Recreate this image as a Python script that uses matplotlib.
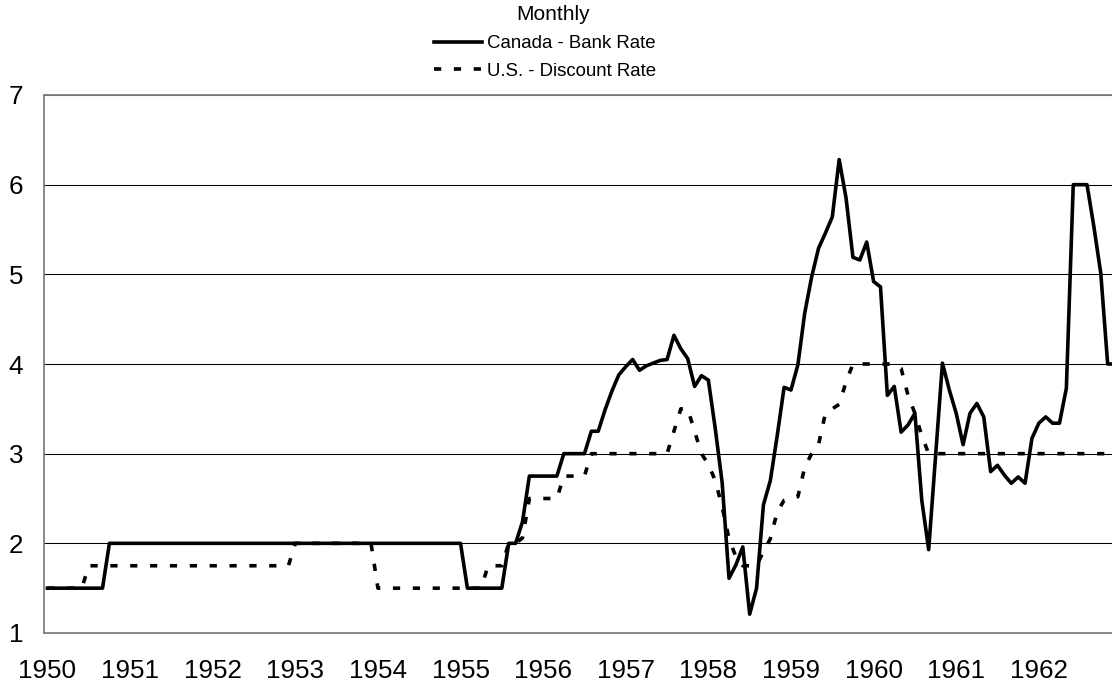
import numpy as np
import matplotlib
matplotlib.use("Agg")
import matplotlib.pyplot as plt

plt.rcParams['font.family'] = ['Liberation Sans', 'DejaVu Sans']

years = [1950, 1951, 1952, 1953, 1954, 1955, 1956, 1957, 1958, 1959, 1960, 1961, 1962]

# Canada - Bank Rate, monthly
canada = [
    1.5, 1.5, 1.5, 1.5, 1.5, 1.5, 1.5, 1.5, 1.5, 2.0, 2.0, 2.0,          # 1950
    2.0, 2.0, 2.0, 2.0, 2.0, 2.0, 2.0, 2.0, 2.0, 2.0, 2.0, 2.0,          # 1951
    2.0, 2.0, 2.0, 2.0, 2.0, 2.0, 2.0, 2.0, 2.0, 2.0, 2.0, 2.0,          # 1952
    2.0, 2.0, 2.0, 2.0, 2.0, 2.0, 2.0, 2.0, 2.0, 2.0, 2.0, 2.0,          # 1953
    2.0, 2.0, 2.0, 2.0, 2.0, 2.0, 2.0, 2.0, 2.0, 2.0, 2.0, 2.0,          # 1954
    2.0, 1.5, 1.5, 1.5, 1.5, 1.5, 1.5, 2.0, 2.0, 2.24, 2.75, 2.75,       # 1955
    2.75, 2.75, 2.75, 3.0, 3.0, 3.0, 3.0, 3.25, 3.25, 3.49, 3.70, 3.88,  # 1956
    3.97, 4.05, 3.93, 3.98, 4.01, 4.04, 4.05, 4.32, 4.17, 4.06, 3.75, 3.87,  # 1957
    3.82, 3.28, 2.68, 1.61, 1.76, 1.96, 1.21, 1.50, 2.43, 2.70, 3.20, 3.74,  # 1958
    3.71, 3.99, 4.57, 4.97, 5.29, 5.46, 5.64, 6.28, 5.85, 5.19, 5.16, 5.36,  # 1959
    4.92, 4.86, 3.65, 3.75, 3.24, 3.32, 3.45, 2.48, 1.93, 2.97, 4.01, 3.71,  # 1960
    3.45, 3.10, 3.45, 3.56, 3.41, 2.80, 2.87, 2.76, 2.67, 2.74, 2.67, 3.17,  # 1961
    3.34, 3.41, 3.34, 3.34, 3.73, 6.00, 6.00, 6.00, 5.53, 5.01, 4.00, 4.00,  # 1962
]

# U.S. - Discount Rate, monthly
us = [
    1.5, 1.5, 1.5, 1.5, 1.5, 1.5, 1.75, 1.75, 1.75, 1.75, 1.75, 1.75,    # 1950
    1.75, 1.75, 1.75, 1.75, 1.75, 1.75, 1.75, 1.75, 1.75, 1.75, 1.75, 1.75,  # 1951
    1.75, 1.75, 1.75, 1.75, 1.75, 1.75, 1.75, 1.75, 1.75, 1.75, 1.75, 1.75,  # 1952
    2.0, 2.0, 2.0, 2.0, 2.0, 2.0, 2.0, 2.0, 2.0, 2.0, 2.0, 2.0,          # 1953
    1.5, 1.5, 1.5, 1.5, 1.5, 1.5, 1.5, 1.5, 1.5, 1.5, 1.5, 1.5,          # 1954
    1.5, 1.5, 1.5, 1.5, 1.75, 1.75, 1.75, 2.0, 2.0, 2.06, 2.5, 2.5,      # 1955
    2.5, 2.5, 2.5, 2.75, 2.75, 2.75, 2.75, 3.0, 3.0, 3.0, 3.0, 3.0,      # 1956
    3.0, 3.0, 3.0, 3.0, 3.0, 3.0, 3.0, 3.25, 3.5, 3.5, 3.25, 3.0,        # 1957
    2.88, 2.70, 2.41, 2.05, 1.85, 1.75, 1.75, 1.75, 1.91, 2.05, 2.35, 2.48,  # 1958
    2.5, 2.52, 2.85, 3.0, 3.1, 3.45, 3.5, 3.55, 3.8, 4.0, 4.0, 4.0,      # 1959
    4.0, 4.0, 4.0, 4.0, 3.95, 3.65, 3.45, 3.2, 3.0, 3.0, 3.0, 3.0,       # 1960
    3.0, 3.0, 3.0, 3.0, 3.0, 3.0, 3.0, 3.0, 3.0, 3.0, 3.0, 3.0,          # 1961
    3.0, 3.0, 3.0, 3.0, 3.0, 3.0, 3.0, 3.0, 3.0, 3.0, 3.0, 3.0,          # 1962
]

months = np.arange(len(canada))

fig = plt.figure(figsize=(11.12, 6.89), dpi=100)
# plot area runs off the right edge like in the original
ax = fig.add_axes([44 / 1112, 1 - 633 / 689, 1074 / 1112, 538 / 689])

ax.plot(months, canada, color='black', lw=2.6, label='Canada - Bank Rate', zorder=3)
ax.plot(months, us, color='black', lw=2.6, linestyle=(0, (2.0, 3.5)),
        label='U.S. - Discount Rate', zorder=3)

ax.set_xlim(-0.5, len(canada) - 0.5)
ax.set_ylim(1, 7)
ax.set_yticks([1, 2, 3, 4, 5, 6, 7])
ax.set_xticks(np.arange(0, len(canada), 12))
ax.set_xticklabels([str(y) for y in years])
ax.tick_params(length=0, labelsize=18.7)
ax.tick_params(axis='x', pad=19)
ax.tick_params(axis='y', pad=15)

ax.grid(axis='y', color='black', lw=0.75)
ax.set_axisbelow(True)
for side in ['left', 'bottom', 'top']:
    ax.spines[side].set_color('#808080')
    ax.spines[side].set_linewidth(1.3)
ax.spines['right'].set_visible(False)

fig.text(553 / 1112, 1 - 15 / 689, 'Monthly', ha='center', va='center', fontsize=15)
fig.legend(loc='center', bbox_to_anchor=(545 / 1112, 1 - 57.5 / 689), frameon=False,
           fontsize=13.4, handlelength=2.6, handletextpad=0.27, labelspacing=0.58,
           borderpad=0)

fig.savefig('out.png', dpi=100)
